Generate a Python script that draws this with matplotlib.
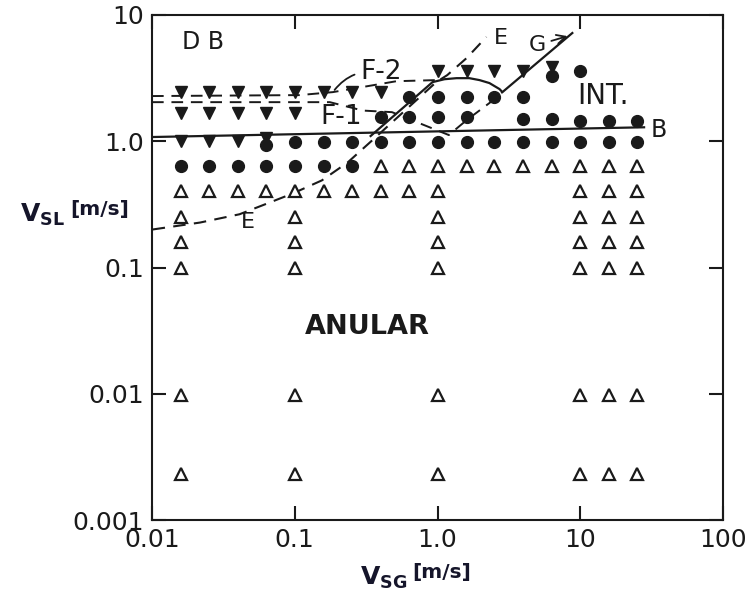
import matplotlib.pyplot as plt
from matplotlib.ticker import NullLocator

# ---- measured points (V_SG, V_SL in m/s) read from the map ----
# dispersed bubble (filled down-triangles)
db_vsg = [0.016, 0.025, 0.04, 0.063, 0.1, 0.16, 0.25, 0.4,
          0.016, 0.025, 0.04, 0.063, 0.1,
          0.016, 0.025, 0.04, 0.063,
          1.0, 1.6, 2.5, 4.0, 6.3]
db_vsl = [2.45, 2.45, 2.45, 2.45, 2.45, 2.45, 2.45, 2.45,
          1.67, 1.67, 1.67, 1.67, 1.67,
          1.0, 1.0, 1.0, 1.06,
          3.6, 3.6, 3.6, 3.6, 3.9]

# intermittent (filled circles)
int_vsg = [6.3, 10,
           0.63, 1.0, 1.6, 2.5, 4.0,
           0.4, 0.63, 1.0, 1.6, 4.0, 6.3, 10, 16, 25,
           0.063, 0.1, 0.16, 0.25, 0.4, 0.63, 1.0, 1.6, 2.5, 4.0, 6.3, 10, 16, 25,
           0.016, 0.025, 0.04, 0.063, 0.1, 0.16, 0.25]
int_vsl = [3.3, 3.6,
           2.25, 2.25, 2.25, 2.25, 2.25,
           1.55, 1.55, 1.55, 1.55, 1.5, 1.5, 1.45, 1.45, 1.45,
           0.94, 0.98, 0.98, 0.98, 0.98, 0.98, 0.98, 0.98, 0.98, 0.98, 0.98, 0.98, 0.98, 0.98,
           0.64, 0.64, 0.64, 0.64, 0.64, 0.64, 0.64]

# annular (open triangles)
an_vsg = [0.4, 0.63, 1.0, 1.6, 2.5, 4.0, 6.3, 10, 16, 25,
          0.016, 0.025, 0.04, 0.063, 0.1, 0.16, 0.25, 0.4, 0.63, 1.0, 10, 16, 25,
          0.016, 0.1, 1.0, 10, 16, 25,
          0.016, 0.1, 1.0, 10, 16, 25,
          0.016, 0.1, 1.0, 10, 16, 25,
          0.016, 0.1, 1.0, 10, 16, 25,
          0.016, 0.1, 1.0, 10, 16, 25]
an_vsl = [0.64, 0.64, 0.64, 0.64, 0.64, 0.64, 0.64, 0.64, 0.64, 0.64,
          0.4, 0.4, 0.4, 0.4, 0.4, 0.4, 0.4, 0.4, 0.4, 0.4, 0.4, 0.4, 0.4,
          0.25, 0.25, 0.25, 0.25, 0.25, 0.25,
          0.16, 0.16, 0.16, 0.16, 0.16, 0.16,
          0.1, 0.1, 0.1, 0.1, 0.1, 0.1,
          0.0097, 0.0097, 0.0097, 0.0097, 0.0097, 0.0097,
          0.0023, 0.0023, 0.0023, 0.0023, 0.0023, 0.0023]

# ---- transition boundaries ----
b_vsg = [0.01, 28]
b_vsl = [1.08, 1.29]

g_vsg = [0.34, 0.923, 1.12, 1.36, 1.67, 1.97, 2.31, 2.72, 2.85, 8.8]
g_vsl = [1.1, 2.94, 3.10, 3.16, 3.16, 3.05, 2.89, 2.59, 2.45, 7.2]

e_vsg = [0.0101, 0.0217, 0.041, 0.0617, 0.097, 0.155, 0.235, 0.35, 0.98, 1.17, 1.6, 2.2]
e_vsl = [0.20, 0.227, 0.264, 0.316, 0.386, 0.49, 0.68, 1.02, 2.94, 3.34, 4.56, 6.7]

f2_vsg = [0.01, 0.108, 0.185, 0.516, 0.98]
f2_vsl = [2.28, 2.32, 2.45, 2.99, 3.05]

f1_vsg = [0.01, 0.176, 0.3, 0.48, 0.88, 1.2, 1.6, 2.3, 2.85]
f1_vsl = [2.04, 2.04, 1.75, 1.70, 1.29, 1.12, 1.47, 2.0, 2.45]

x_ticks = [0.01, 0.1, 1, 10, 100]
x_labels = ["0.01", "0.1", "1.0", "10", "100"]
y_ticks = [0.001, 0.01, 0.1, 1, 10]
y_labels = ["0.001", "0.01", "0.1", "1.0", "10"]

fig = plt.figure(figsize=(7.5, 5.97), dpi=100)
ax = fig.add_axes([152 / 750, 1 - 520 / 597, 571 / 750, 505 / 597])
ax.set_xscale("log")
ax.set_yscale("log")
ax.set_xlim(0.01, 100)
ax.set_ylim(0.001, 10)

ink = "#1a1a1a"

# boundaries
ax.plot(b_vsg, b_vsl, color=ink, lw=1.6)
ax.plot(g_vsg, g_vsl, color=ink, lw=1.6)
ax.plot(e_vsg, e_vsl, color=ink, lw=1.5, dashes=(6, 4))
ax.plot(f2_vsg, f2_vsl, color=ink, lw=1.4, dashes=(6, 4))
ax.plot(f1_vsg, f1_vsl, color=ink, lw=1.4, dashes=(6, 4))

# points
ax.plot(db_vsg, db_vsl, "v", ms=9, color=ink, ls="none")
ax.plot(int_vsg, int_vsl, "o", ms=8.5, color=ink, ls="none")
ax.plot(an_vsg, an_vsl, "^", ms=9, mfc="white", mec=ink, mew=1.6, ls="none")

# region / curve labels
lab = dict(color=ink, ha="center", va="center")
ax.text(0.0227, 6.1, "D B", fontsize=17, **lab)
ax.text(0.21, 1.55, "F-1", fontsize=19, **lab)
ax.text(0.047, 0.228, "E", fontsize=16, **lab)
ax.text(2.8, 6.56, "E", fontsize=16, **lab)
ax.text(14.5, 2.28, "INT.", fontsize=20, **lab)
ax.text(35.6, 1.22, "B", fontsize=17, **lab)
ax.annotate("F-2", xy=(0.185, 2.45), xytext=(0.40, 3.53), fontsize=19,
            arrowprops=dict(arrowstyle="-", color=ink, lw=1.3,
                            connectionstyle="arc3,rad=0.3"), **lab)
ax.annotate("G", xy=(8.5, 6.9), xytext=(5.0, 5.78), fontsize=16,
            arrowprops=dict(arrowstyle="->", color=ink, lw=1.3), **lab)
ax.text(0.32, 0.034, "ANULAR", fontsize=19.5, fontweight="bold", **lab)

# axes formatting
ax.set_xticks(x_ticks)
ax.set_xticklabels(x_labels)
ax.set_yticks(y_ticks)
ax.set_yticklabels(y_labels)
ax.xaxis.set_minor_locator(NullLocator())
ax.yaxis.set_minor_locator(NullLocator())
ax.tick_params(direction="in", length=10, width=1.5, top=True, right=True,
               labelsize=18, colors=ink, pad=6)
for s in ax.spines.values():
    s.set_linewidth(1.5)
    s.set_color(ink)

# axis titles
title_ink = "#15152a"
fig.text(20 / 750, 1 - 222 / 597, r"$\mathbf{V_{SL}}$", fontsize=18,
         color=title_ink, va="baseline")
fig.text(70 / 750, 1 - 215 / 597, "[m/s]", fontsize=14.5, fontweight="bold",
         color=title_ink, va="baseline")
fig.text(360 / 750, 1 - 585 / 597, r"$\mathbf{V_{SG}}$", fontsize=18,
         color=title_ink, va="baseline")
fig.text(412 / 750, 1 - 578 / 597, "[m/s]", fontsize=14.5, fontweight="bold",
         color=title_ink, va="baseline")

fig.savefig("out.png", dpi=100)
